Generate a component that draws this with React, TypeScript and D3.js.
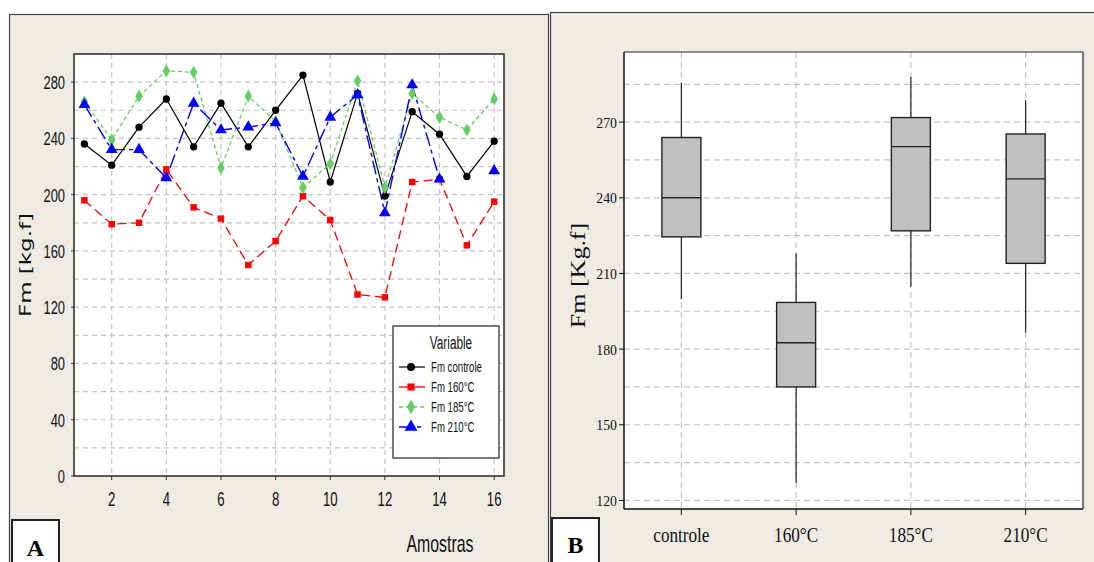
import React, { useEffect, useRef } from 'react';
import * as d3 from 'd3';

// Panel A: Fm per sample
const samples = [1, 2, 3, 4, 5, 6, 7, 8, 9, 10, 11, 12, 13, 14, 15, 16];
const fmControle = [236, 221, 248, 268, 234, 265, 234, 260, 285, 209, 272, 199, 259, 243, 213, 238];
const fm160 = [196, 179, 180, 218, 191, 183, 150, 167, 199, 182, 129, 127, 209, 211, 164, 195];
const fm185 = [266, 239, 270, 288, 287, 219, 270, 252, 205, 222, 281, 205, 272, 255, 246, 268];
const fm210 = [264, 232, 232, 212, 265, 246, 248, 251, 213, 255, 271, 187, 278, 211, null, 217];
const seriesNames = ['Fm controle', 'Fm 160°C', 'Fm 185°C', 'Fm 210°C'];
const yTicksA = [0, 40, 80, 120, 160, 200, 240, 280];
const xTicksA = [2, 4, 6, 8, 10, 12, 14, 16];

// Panel B: box plot
const boxCategories = ['controle', '160°C', '185°C', '210°C'];
const whiskerLow = [199.8, 127, 204.7, 186.6];
const q1 = [224.5, 165, 226.9, 214];
const medians = [240, 182.5, 260.3, 247.5];
const q3 = [263.9, 198.5, 271.8, 265.3];
const whiskerHigh = [285.5, 217.9, 287.9, 278.7];
const yTicksB = [120, 150, 180, 210, 240, 270];

const BEIGE = '#EFEBE2';
const GRID = '#c4c4c4';
const SANS = '"Liberation Sans", Arial, sans-serif';
const SERIF = '"Liberation Serif", "Times New Roman", serif';

const App = () => {
  const ref = useRef<SVGSVGElement>(null);

  useEffect(() => {
    const svg = d3.select(ref.current);
    svg.selectAll('*').remove();

    // squeezed text (the source picture is horizontally compressed)
    const label = (x: number, y: number, txt: string | number, size: number, sx: number,
      anchor = 'middle', family = SANS) =>
      svg.append('text')
        .attr('transform', `translate(${x},${y}) scale(${sx},1)`)
        .attr('text-anchor', anchor).attr('font-family', family)
        .attr('font-size', size).attr('fill', '#111').text(txt);

    // ---------- panel A ----------
    svg.append('rect').attr('x', 9.5).attr('y', 14.5).attr('width', 539).attr('height', 560)
      .attr('fill', BEIGE).attr('stroke', '#444').attr('stroke-width', 1.2);

    const a = { l: 74, r: 504, t: 54, b: 476 };
    const x = d3.scaleLinear().domain([0.62, 16.36]).range([a.l, a.r]);
    const y = d3.scaleLinear().domain([0, 300]).range([a.b, a.t]);

    svg.append('rect').attr('x', a.l).attr('y', a.t).attr('width', a.r - a.l).attr('height', a.b - a.t)
      .attr('fill', '#fff');

    const gA = svg.append('g');
    gA.selectAll('.hg').data(d3.range(20, 300, 20)).join('line')
      .attr('x1', a.l).attr('x2', a.r).attr('y1', (d) => y(d)).attr('y2', (d) => y(d))
      .attr('stroke', GRID).attr('stroke-width', 1.2).attr('stroke-dasharray', '5,4');
    gA.selectAll('.vg').data(xTicksA).join('line')
      .attr('y1', a.t).attr('y2', a.b).attr('x1', (d) => x(d)).attr('x2', (d) => x(d))
      .attr('stroke', GRID).attr('stroke-width', 1.2).attr('stroke-dasharray', '5,4');

    svg.append('rect').attr('x', a.l).attr('y', a.t).attr('width', a.r - a.l).attr('height', a.b - a.t)
      .attr('fill', 'none').attr('stroke', '#333').attr('stroke-width', 1.6);

    yTicksA.forEach((t) => {
      svg.append('line').attr('x1', a.l - 3).attr('x2', a.l).attr('y1', y(t)).attr('y2', y(t))
        .attr('stroke', '#333');
      label(a.l - 9, y(t) + 7, t, 19, 0.68, 'end');
    });
    xTicksA.forEach((t) => {
      svg.append('line').attr('x1', x(t)).attr('x2', x(t)).attr('y1', a.b).attr('y2', a.b + 4)
        .attr('stroke', '#333');
      label(x(t), 506, t, 20, 0.66);
    });

    svg.append('text').attr('transform', 'translate(31,265) rotate(-90) scale(1,0.68)')
      .attr('text-anchor', 'middle')
      .attr('font-family', '"DejaVu Sans", Verdana, sans-serif').attr('font-size', 23).attr('fill', '#111')
      .text('Fm [kg.f]');
    label(440, 551.5, 'Amostras', 23, 0.69);

    const styles = [
      { values: fmControle, color: '#000', dash: null, marker: d3.symbolCircle, size: 42, width: 1.2 },
      { values: fm160, color: '#ff0000', dash: '9,5', marker: d3.symbolSquare, size: 42, width: 1.3 },
      { values: fm185, color: '#66cc66', dash: '4,3', marker: d3.symbolDiamond, size: 50, width: 1.3 },
      { values: fm210, color: '#0000ff', dash: '14,4,4,4', marker: d3.symbolTriangle, size: 60, width: 1.4 },
    ];

    const line = d3.line<number | null>()
      .defined((d) => d !== null)
      .x((_, i) => x(samples[i]))
      .y((d) => y(d as number));

    styles.forEach((s) => {
      svg.append('path').datum(s.values).attr('d', line).attr('fill', 'none')
        .attr('stroke', s.color).attr('stroke-width', s.width)
        .attr('stroke-dasharray', s.dash);
    });
    styles.forEach((s) => {
      svg.append('g').selectAll('path').data(s.values.map((v, i) => [samples[i], v]).filter((p) => p[1] !== null))
        .join('path')
        .attr('transform', (p) => `translate(${x(p[0] as number)},${y(p[1] as number)})`)
        .attr('d', d3.symbol(s.marker, s.size)())
        .attr('fill', s.color);
    });

    // legend
    svg.append('rect').attr('x', 393).attr('y', 326).attr('width', 106).attr('height', 132)
      .attr('fill', '#fff').attr('stroke', '#222').attr('stroke-width', 1.2);
    label(451, 349, 'Variable', 19, 0.62);
    styles.forEach((s, i) => {
      const ly = 367 + i * 20;
      svg.append('line').attr('x1', 399).attr('x2', 425).attr('y1', ly).attr('y2', ly)
        .attr('stroke', s.color).attr('stroke-width', s.width)
        .attr('stroke-dasharray', i === 0 || i === 1 ? null : s.dash);
      svg.append('path').attr('transform', `translate(411,${ly})`).attr('d', d3.symbol(s.marker, s.size * 1.2)())
        .attr('fill', s.color);
      label(431, ly + 5, seriesNames[i], 14, 0.69, 'start');
    });

    svg.append('rect').attr('x', 12).attr('y', 520).attr('width', 47).attr('height', 60)
      .attr('fill', '#fff').attr('stroke', '#222').attr('stroke-width', 2);
    svg.append('text').attr('x', 35.5).attr('y', 556).attr('text-anchor', 'middle')
      .attr('font-family', SERIF).attr('font-weight', 'bold')
      .attr('font-size', 24).attr('fill', '#000').text('A');

    // ---------- panel B ----------
    svg.append('rect').attr('x', 550.5).attr('y', 12.5).attr('width', 600).attr('height', 600)
      .attr('fill', BEIGE).attr('stroke', '#444').attr('stroke-width', 1.2);

    const b = { l: 624, r: 1083, t: 52, b: 509 };
    const xb = d3.scaleBand().domain(boxCategories).range([b.l, b.r]);
    const yb = d3.scaleLinear().domain([116.6, 297.8]).range([b.b, b.t]);
    const cx = (c: string) => (xb(c) as number) + xb.bandwidth() / 2;

    svg.append('rect').attr('x', b.l).attr('y', b.t).attr('width', b.r - b.l).attr('height', b.b - b.t)
      .attr('fill', '#fff');
    const gB = svg.append('g');
    gB.selectAll('.hg').data(d3.range(120, 298, 15)).join('line')
      .attr('x1', b.l).attr('x2', b.r).attr('y1', (d) => yb(d)).attr('y2', (d) => yb(d))
      .attr('stroke', GRID).attr('stroke-width', 1.2).attr('stroke-dasharray', '6,4');
    gB.selectAll('.vg').data(boxCategories).join('line')
      .attr('y1', b.t).attr('y2', b.b).attr('x1', (d) => cx(d)).attr('x2', (d) => cx(d))
      .attr('stroke', GRID).attr('stroke-width', 1.2).attr('stroke-dasharray', '6,4');

    // frame
    svg.append('line').attr('x1', b.l).attr('x2', b.r).attr('y1', b.t).attr('y2', b.t).attr('stroke', '#222');
    svg.append('line').attr('x1', b.r).attr('x2', b.r).attr('y1', b.t).attr('y2', b.b)
      .attr('stroke', '#777').attr('stroke-width', 2.2);
    svg.append('line').attr('x1', b.l).attr('x2', b.l).attr('y1', b.t).attr('y2', b.b)
      .attr('stroke', '#111').attr('stroke-width', 1.5);
    svg.append('line').attr('x1', b.l).attr('x2', b.r).attr('y1', b.b).attr('y2', b.b)
      .attr('stroke', '#111').attr('stroke-width', 1.5);

    yTicksB.forEach((t) => {
      svg.append('line').attr('x1', b.l - 5).attr('x2', b.l).attr('y1', yb(t)).attr('y2', yb(t))
        .attr('stroke', '#111');
      label(b.l - 7, yb(t) + 5.5, t, 15, 0.92, 'end', SERIF);
    });
    boxCategories.forEach((c) => {
      svg.append('line').attr('x1', cx(c)).attr('x2', cx(c)).attr('y1', b.b).attr('y2', b.b + 6)
        .attr('stroke', '#111');
      label(cx(c), 541.5, c, 22, 0.78, 'middle', SERIF);
    });

    const bw = 39;
    boxCategories.forEach((c, i) => {
      const g = svg.append('g');
      g.append('line').attr('x1', cx(c)).attr('x2', cx(c)).attr('y1', yb(whiskerHigh[i])).attr('y2', yb(q3[i]))
        .attr('stroke', '#222').attr('stroke-width', 1.2);
      g.append('line').attr('x1', cx(c)).attr('x2', cx(c)).attr('y1', yb(q1[i])).attr('y2', yb(whiskerLow[i]))
        .attr('stroke', '#222').attr('stroke-width', 1.2);
      g.append('rect').attr('x', cx(c) - bw / 2).attr('y', yb(q3[i])).attr('width', bw)
        .attr('height', yb(q1[i]) - yb(q3[i])).attr('fill', '#c0c0c0').attr('stroke', '#222')
        .attr('stroke-width', 1.4);
      g.append('line').attr('x1', cx(c) - bw / 2).attr('x2', cx(c) + bw / 2)
        .attr('y1', yb(medians[i])).attr('y2', yb(medians[i])).attr('stroke', '#222').attr('stroke-width', 1.4);
    });

    svg.append('text').attr('transform', 'translate(585,275.5) rotate(-90) scale(1,0.8)')
      .attr('text-anchor', 'middle')
      .attr('font-family', SERIF).attr('font-size', 26).attr('fill', '#111').text('Fm [Kg.f]');

    svg.append('rect').attr('x', 552).attr('y', 518).attr('width', 47).attr('height', 60)
      .attr('fill', '#fff').attr('stroke', '#222').attr('stroke-width', 2);
    svg.append('text').attr('x', 575.5).attr('y', 553).attr('text-anchor', 'middle')
      .attr('font-family', SERIF).attr('font-weight', 'bold')
      .attr('font-size', 24).attr('fill', '#000').text('B');
  }, []);

  return (
    <div>
      <svg ref={ref} width={1094} height={562}
        style={{ position: 'absolute', left: 0, top: 0, background: '#fff' }}></svg>
    </div>
  );
};

export default App;
